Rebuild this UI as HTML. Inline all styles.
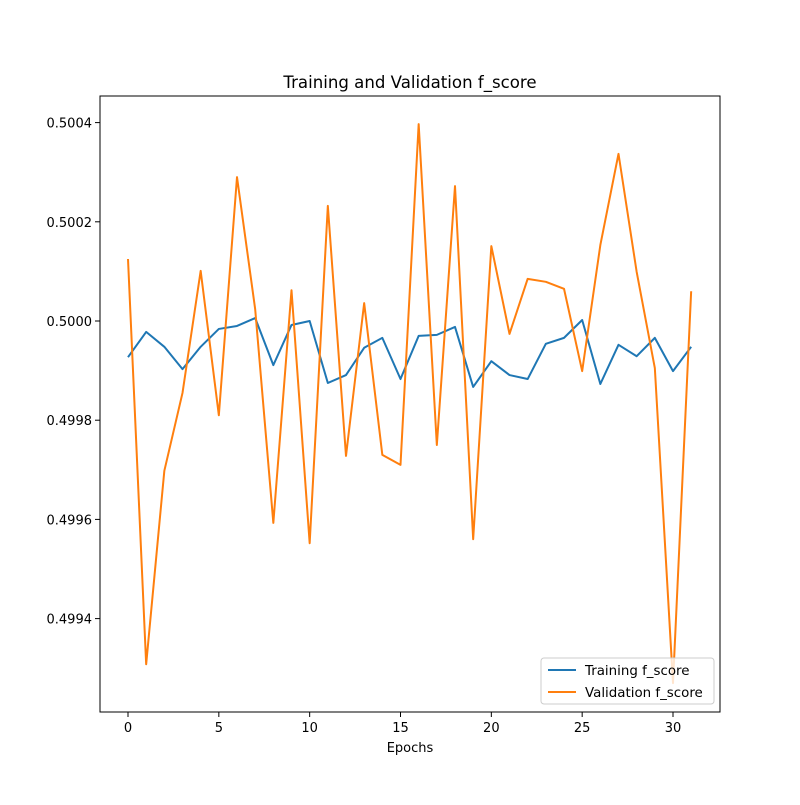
<!DOCTYPE html>
<html><head><meta charset="utf-8"><style>
body{margin:0;background:#fff;}
text{font-family:"DejaVu Sans","Liberation Sans",sans-serif;}
</style></head><body>
<svg id="chart" width="800" height="800" xmlns="http://www.w3.org/2000/svg">
<rect width="800" height="800" fill="#fff"/>
<text x="410" y="88" text-anchor="middle" font-size="16.6">Training and Validation f_score</text>
<g id="plot"></g>
<rect x="100" y="96" width="620" height="616" fill="none" stroke="#000" stroke-width="1"/>
<text x="410" y="752" text-anchor="middle" font-size="13">Epochs</text>
<g>
<rect x="541" y="658" width="173" height="46" rx="3" fill="#fff" fill-opacity="0.8" stroke="#ccc"/>
<line x1="548" y1="670" x2="576" y2="670" stroke="#1f77b4" stroke-width="2"/>
<text x="585" y="675" font-size="13.4">Training f_score</text>
<line x1="548" y1="692" x2="576" y2="692" stroke="#ff7f0e" stroke-width="2"/>
<text x="585" y="697" font-size="13.4">Validation f_score</text>
</g>
</svg>
<script>
const epochs=[...Array(32).keys()];
const training=[0.499927,0.499978,0.499948,0.499903,0.499948,0.499984,0.499990,0.500006,0.499911,0.499992,0.500000,0.499875,0.499891,0.499946,0.499966,0.499883,0.499970,0.499972,0.499988,0.499867,0.499919,0.499891,0.499883,0.499954,0.499966,0.500002,0.499873,0.499952,0.499929,0.499966,0.499899,0.499948];
const validation=[0.500125,0.499308,0.499698,0.499855,0.500101,0.499810,0.500290,0.500024,0.499593,0.500062,0.499552,0.500232,0.499728,0.500036,0.499730,0.499710,0.500397,0.499750,0.500272,0.499560,0.500151,0.499974,0.500085,0.500079,0.500065,0.499899,0.500153,0.500337,0.500099,0.499905,0.499270,0.500060];
const xTicks=[0,5,10,15,20,25,30];
const yTicks=[0.4994,0.4996,0.4998,0.5000,0.5002,0.5004];
const yTickLabels=["0.4994","0.4996","0.4998","0.5000","0.5002","0.5004"];
const X=v=>128+v*(673-128)/30;
const Y=v=>321-(v-0.5)/0.0002*99.2;
const NS="http://www.w3.org/2000/svg";
const g=document.getElementById('plot');
function mk(t,a){const e=document.createElementNS(NS,t);for(const k in a)e.setAttribute(k,a[k]);g.appendChild(e);return e;}
xTicks.forEach(t=>{
 const l=mk('line',{x1:X(t),x2:X(t),y1:712,y2:717,stroke:'#000'});
 
 
 const tx=mk('text',{x:X(t),y:732,'text-anchor':'middle','font-size':13});tx.textContent=t;
 
 
});
yTicks.forEach((t,i)=>{
 const l=mk('line',{x1:95,x2:100,y1:Y(t),y2:Y(t),stroke:'#000'});
 
 
 const tx=mk('text',{x:92,y:Y(t)+5,'text-anchor':'end','font-size':13});tx.textContent=yTickLabels[i];
 
 
});
function line(vals,color,name){
 const p=mk('polyline',{points:vals.map((v,i)=>X(epochs[i])+','+Y(v)).join(' '),fill:'none',stroke:color,'stroke-width':2,'stroke-linejoin':'round'});
 
 
}
line(training,'#1f77b4','training-line');
line(validation,'#ff7f0e','validation-line');
</script>
</body></html>
